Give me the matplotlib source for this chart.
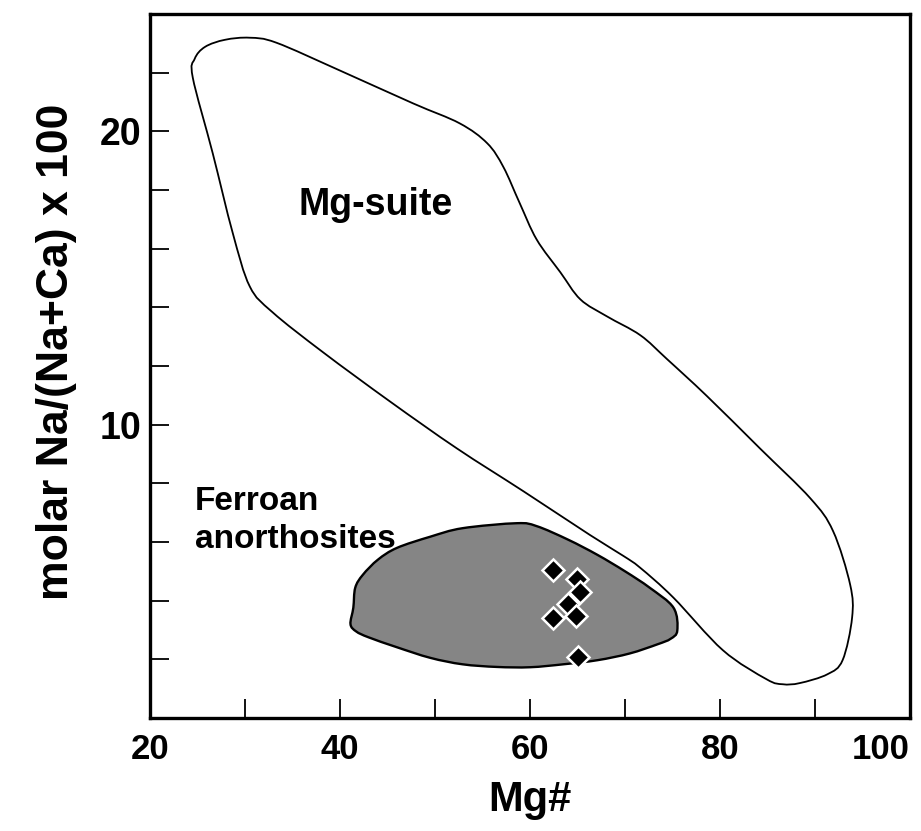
import numpy as np
import matplotlib.pyplot as plt
from matplotlib.patches import PathPatch
from matplotlib.path import Path

plt.rcParams['font.family'] = ['Liberation Sans', 'DejaVu Sans']
plt.rcParams['font.weight'] = 'bold'

# Mg-suite field outline (Mg#, molar Na/(Na+Ca) x 100)
mg_suite_x = [24.5, 24.7, 25.8, 27.9, 30.5, 33.3, 40.0, 47.7, 52.6, 55.5, 57.2, 58.9,
              60.7, 63.2, 65.3, 68.1, 71.6, 74.4, 78.6, 84.2, 89.5, 91.9, 93.7, 93.9,
              92.9, 91.3, 88.4, 86.6, 84.9, 80.3, 75.1, 71.6, 69.8, 66.3, 59.3, 52.3,
              45.3, 38.2, 32.9, 30.5, 28.7, 26.6]
mg_suite_y = [21.83, 22.47, 22.88, 23.12, 23.19, 23.02, 22.07, 20.95, 20.27, 19.59, 18.78, 17.56,
              16.31, 15.19, 14.27, 13.69, 13.05, 12.24, 10.98, 9.19, 7.49, 6.37, 4.54, 3.42,
              1.97, 1.49, 1.19, 1.15, 1.32, 2.31, 4.10, 5.12, 5.53, 6.24, 7.73, 9.19,
              10.78, 12.47, 13.83, 14.71, 16.54, 19.25]

# Ferroan anorthosite field outline
fan_x = [41.4, 41.6, 42.4, 44.0, 46.0, 49.5, 52.9, 58.6, 60.7, 64.0, 67.1, 70.0, 72.6, 75.1,
         75.5, 74.8, 73.4, 70.5, 67.1, 63.5, 60.0, 56.5, 52.9, 49.5, 46.0, 43.0, 41.7, 41.1]
fan_y = [3.76, 4.44, 4.88, 5.40, 5.80, 6.18, 6.47, 6.64, 6.54, 6.08, 5.56, 5.00, 4.44, 3.76,
         2.98, 2.70, 2.51, 2.20, 1.97, 1.83, 1.73, 1.74, 1.83, 2.05, 2.41, 2.75, 2.95, 3.20]

# samples
sample_mg = [62.4, 64.9, 65.3, 64.0, 62.4, 64.8, 65.1]
sample_na = [5.05, 4.75, 4.31, 3.90, 3.42, 3.49, 2.07]


def smooth_closed_path(xs, ys):
    # closed outline drawn as cubic Bezier segments through the given vertices
    p = np.column_stack([xs, ys])
    n = len(p)
    verts = [p[0]]
    codes = [Path.MOVETO]
    for i in range(n):
        p0, p1, p2, p3 = p[i - 1], p[i], p[(i + 1) % n], p[(i + 2) % n]
        verts += [p1 + (p2 - p0) / 6, p2 - (p3 - p1) / 6, p2]
        codes += [Path.CURVE4] * 3
    verts.append(p[0])
    codes.append(Path.CLOSEPOLY)
    return Path(verts, codes)


fig = plt.figure(figsize=(9.21, 8.31), dpi=100)
ax = fig.add_axes([0.1629, 0.136, 0.8252, 0.8472])

ax.add_patch(PathPatch(smooth_closed_path(mg_suite_x, mg_suite_y),
                       facecolor='white', edgecolor='black', lw=1.3))
ax.add_patch(PathPatch(smooth_closed_path(fan_x, fan_y),
                       facecolor='#858585', edgecolor='black', lw=1.7))

ax.plot(sample_mg, sample_na, ls='none', marker='D', ms=11, mfc='black',
        mec='white', mew=1.8)

ax.text(35.6, 17.15, 'Mg-suite', fontsize=27, fontweight='bold', va='baseline')
ax.text(24.7, 7.1, 'Ferroan', fontsize=24, fontweight='bold', va='baseline')
ax.text(24.7, 5.8, 'anorthosites', fontsize=24, fontweight='bold', va='baseline')

ax.set_xlim(20, 100)
ax.set_ylim(0, 24)
ax.set_xticks([20, 40, 60, 80, 100])
ax.set_xticks([30, 50, 70, 90], minor=True)
ax.set_yticks([10, 20])
ax.set_yticks([2, 4, 6, 8, 12, 14, 16, 18, 22], minor=True)

ax.tick_params(which='both', direction='in', length=14, width=1.3)
ax.tick_params(axis='x', pad=11, labelsize=25)
ax.tick_params(axis='y', pad=6, labelsize=27)
for lab in ax.get_xticklabels() + ax.get_yticklabels():
    lab.set_fontweight('bold')
ax.get_xticklabels()[-1].set_ha('right')

for sp in ax.spines.values():
    sp.set_linewidth(2.4)

ax.set_xlabel('Mg#', fontsize=30, fontweight='bold')
ax.set_ylabel('molar Na/(Na+Ca) x 100', fontsize=32, fontweight='bold')
ax.xaxis.set_label_coords(0.5, -0.088)
ax.yaxis.set_label_coords(-0.096, 0.52)

fig.savefig('out.png', dpi=100)
